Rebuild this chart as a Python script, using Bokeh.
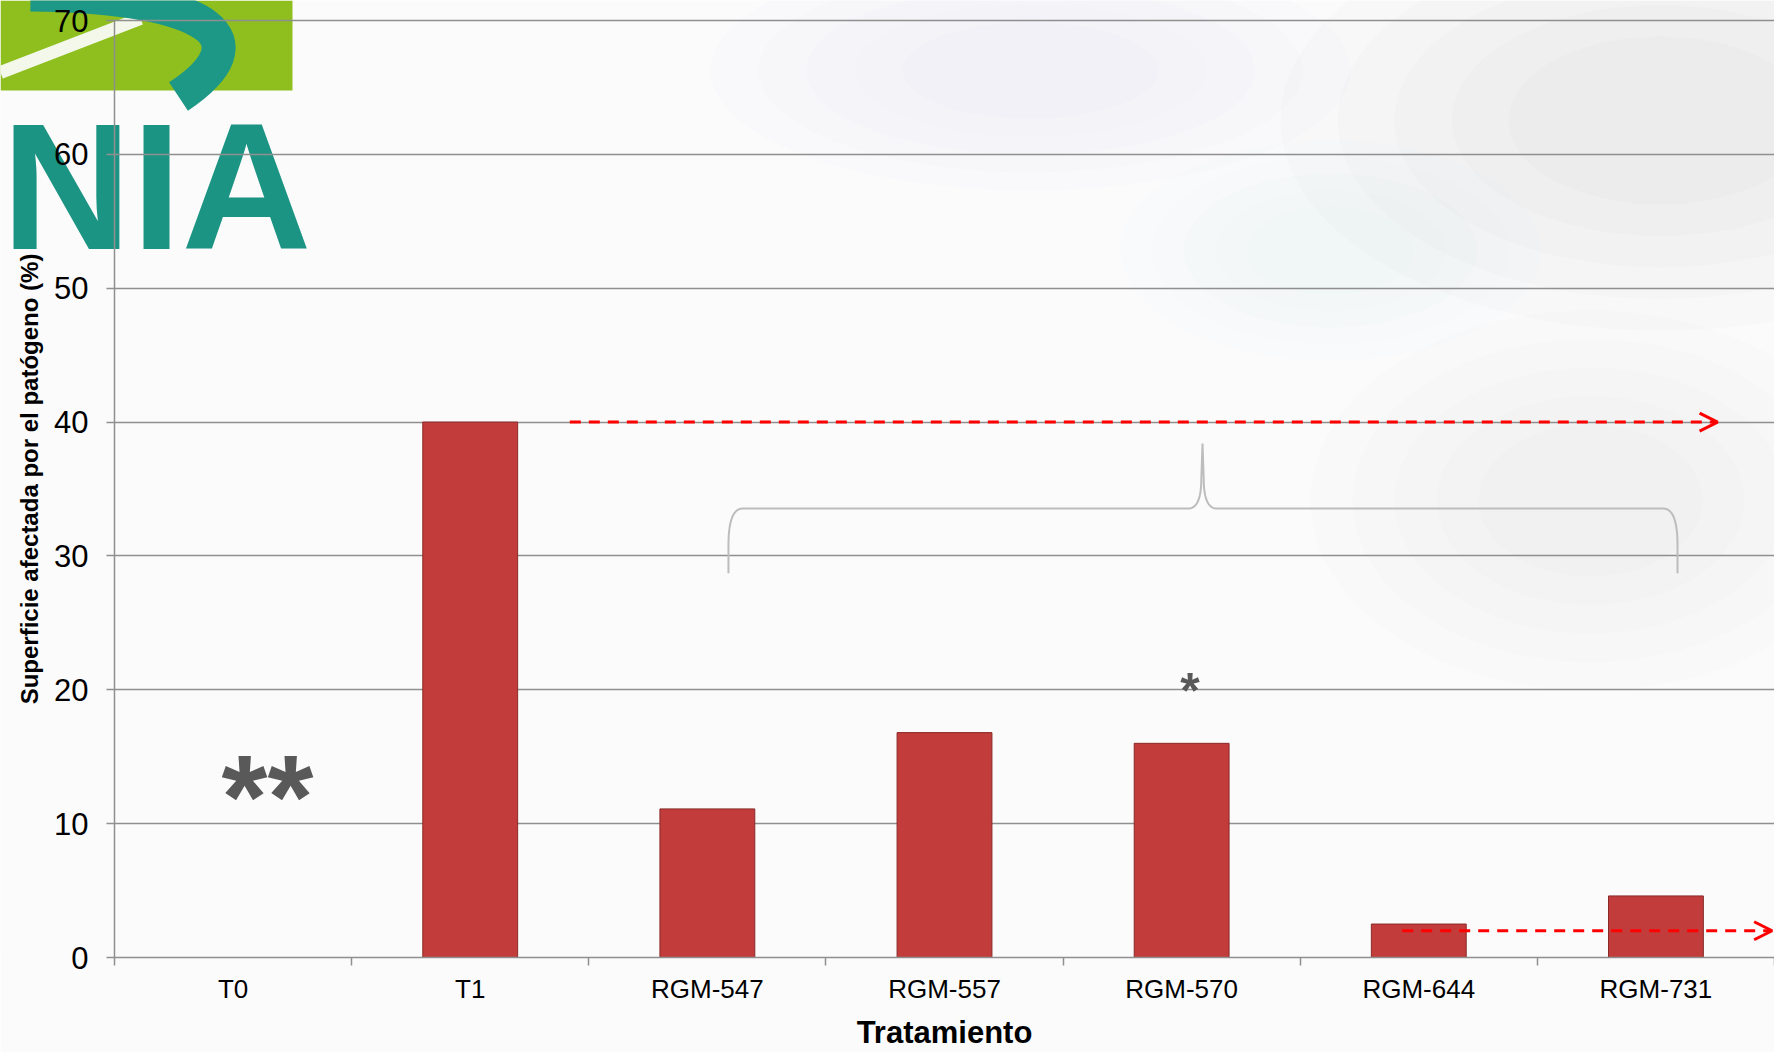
from bokeh.plotting import figure
from bokeh.layouts import row
from bokeh.models import (Range1d, LinearAxis, FixedTicker, Arrow, OpenHead,
                          Label, ColumnDataSource)
from bokeh.core.properties import value
from bokeh.embed import file_html
from bokeh.resources import INLINE

# ---- data ----
categories = ["T0", "T1", "RGM-547", "RGM-557", "RGM-570", "RGM-644", "RGM-731"]
values = [0.0, 40.0, 11.1, 16.8, 16.0, 2.5, 4.6]
y_ticks = [0, 10, 20, 30, 40, 50, 60, 70]
y_title = "Superficie afectada por el patógeno (%)"
x_title = "Tratamiento"

FONT = "Liberation Sans"
GRID = "#8f8f8f"
W, H = 1774, 1052
TOP_GAP, BOTTOM, LEFT = 20, 95, 114
n = len(categories)
centers = [i + 0.5 for i in range(n)]          # category slot centres
y_max = y_ticks[-1]
frame_h = H - BOTTOM
y_top = y_max * frame_h / (frame_h - TOP_GAP)  # leaves a 20 px gap above the 70 line

# ---------------- background layer (sky + logo), pixel coordinates ----------------
bg = figure(width=W, height=H, x_range=Range1d(0, W), y_range=Range1d(frame_h, 0),
            output_backend="svg", toolbar_location=None,
            min_border_left=0, min_border_right=0, min_border_top=0, min_border_bottom=BOTTOM,
            x_axis_location=None, y_axis_location=None)
bg.grid.visible = False
bg.outline_line_color = None
bg.background_fill_color = "#fbfbfc"
bg.border_fill_color = "#fbfbfc"

# soft clouds: layered translucent ellipses
clouds = [(1660, 120, 760, 420, 1.0), (1030, 70, 640, 240, 0.55),
          (1590, 500, 560, 380, 0.6), (1330, 250, 420, 220, 0.45)]
for cx, cy, cw, ch, k in clouds:
    for s in (1.0, 0.85, 0.7, 0.55, 0.4):
        bg.ellipse(x=[cx], y=[cy], width=[cw * s], height=[ch * s],
                   fill_color="#aeb6c2", fill_alpha=0.045 * k, line_color=None)

# logo
bg.quad(left=[0], right=[292], top=[0], bottom=[90], fill_color="#8fbf1e", line_color=None)
bg.line(x=[0, 140], y=[72, 18], line_color="#f4f8ea", line_width=13)
bg.bezier(x0=[30], y0=[-6], x1=[178], y1=[96], cx0=[215], cy0=[-4], cx1=[262], cy1=[40],
          line_color="#1e9886", line_width=34)
bg.text(x=[1], y=[186], text=["NIA"], text_font=value(FONT), text_font_style="bold",
        text_font_size="180px", text_color="#1c9483", text_baseline="middle",
        text_align="left")

# ---------------- chart layer (transparent, on top) ----------------
p = figure(width=W, height=H,
           x_range=Range1d(0, n), y_range=Range1d(0, y_top),
           output_backend="svg", toolbar_location=None, x_axis_location=None,
           min_border_left=LEFT, min_border_right=0, min_border_top=0, min_border_bottom=BOTTOM)
p.outline_line_color = None
p.border_fill_alpha = 0
p.background_fill_alpha = 0
p.margin = (0, 0, 0, -W)

# grid / y axis
p.xgrid.grid_line_color = None
p.ygrid.ticker = FixedTicker(ticks=y_ticks)
p.ygrid.grid_line_color = GRID
p.ygrid.grid_line_width = 1.5

ya = p.yaxis[0]
ya.ticker = FixedTicker(ticks=y_ticks)
ya.bounds = (0, y_max)
ya.axis_line_color = GRID
ya.axis_line_width = 1.5
ya.major_tick_line_color = GRID
ya.major_tick_line_width = 1.5
ya.major_tick_out = 8
ya.major_tick_in = 0
ya.minor_tick_line_color = None
ya.major_label_standoff = 18
ya.major_label_text_font = FONT
ya.major_label_text_font_size = "31px"
ya.major_label_text_color = "#000000"
ya.axis_label = y_title
ya.axis_label_text_font = FONT
ya.axis_label_text_font_size = "24px"
ya.axis_label_text_font_style = "bold"
ya.axis_label_text_color = "#000000"
ya.axis_label_standoff = 8

# x axis: labels at category centres, tick marks at category boundaries
xa = LinearAxis(ticker=FixedTicker(ticks=centers,
                                   minor_ticks=[float(i) for i in range(n + 1)]),
                major_label_overrides={c: lab for c, lab in zip(centers, categories)})
xa.axis_line_color = GRID
xa.axis_line_width = 1.5
xa.major_tick_line_color = None
xa.major_tick_out = 8
xa.major_tick_in = 0
xa.minor_tick_line_color = GRID
xa.minor_tick_line_width = 1.5
xa.minor_tick_out = 8
xa.minor_tick_in = 0
xa.major_label_standoff = 8
xa.major_label_text_font = FONT
xa.major_label_text_font_size = "26px"
xa.major_label_text_color = "#000000"
xa.axis_label = x_title
xa.axis_label_text_font = FONT
xa.axis_label_text_font_size = "31px"
xa.axis_label_text_font_style = "bold"
xa.axis_label_text_color = "#000000"
xa.axis_label_standoff = 8
p.add_layout(xa, "below")

# bars
src = ColumnDataSource(dict(x=centers, val=values, cat=categories))
p.vbar(x="x", top="val", width=0.4, source=src,
       fill_color="#c13c3a", line_color="#8a2a28", line_width=1)

# dashed red arrows
for xs, xe, yy in [(1.92, 6.76, 40.0), (5.43, 6.99, 2.0)]:
    p.add_layout(Arrow(end=OpenHead(line_color="#ff0000", line_width=3, size=18),
                       x_start=xs, y_start=yy, x_end=xe, y_end=yy,
                       line_color="#ff0000", line_width=3, line_dash="11 8"))

# curly brace (annotation)
def quad(p0, c, p1, k=14):
    pts = []
    for i in range(k + 1):
        t = i / k
        x = (1 - t) ** 2 * p0[0] + 2 * (1 - t) * t * c[0] + t ** 2 * p1[0]
        y = (1 - t) ** 2 * p0[1] + 2 * (1 - t) * t * c[1] + t ** 2 * p1[1]
        pts.append((x, y))
    return pts

xL, xM, xR = 2.589, 4.588, 6.591
yB, yH, yT = 28.7, 33.54, 38.4
path = [(xL, yB)]
path += quad((xL, 30.8), (xL, yH), (xL + 0.06, yH))
path += quad((xM - 0.06, yH), (xM - 0.005, yH), (xM - 0.005, 35.8))
path += [(xM, yT)]
path += quad((xM + 0.005, 35.8), (xM + 0.005, yH), (xM + 0.06, yH))
path += quad((xR - 0.06, yH), (xR, yH), (xR, 30.8))
path += [(xR, yB)]
p.line([a for a, b in path], [b for a, b in path], line_color="#bdbdbd", line_width=2)

# significance marks
p.add_layout(Label(x=0.645, y=12.0, text="**", text_font=FONT,
                   text_font_style="bold", text_font_size="118px", text_color="#595959",
                   text_align="center", text_baseline="middle"))
p.add_layout(Label(x=4.535, y=19.9, text="*", text_font=FONT,
                   text_font_style="bold", text_font_size="50px", text_color="#595959",
                   text_align="center", text_baseline="middle"))

root = row(bg, p)
open("out.html", "w").write(file_html(root, INLINE))
